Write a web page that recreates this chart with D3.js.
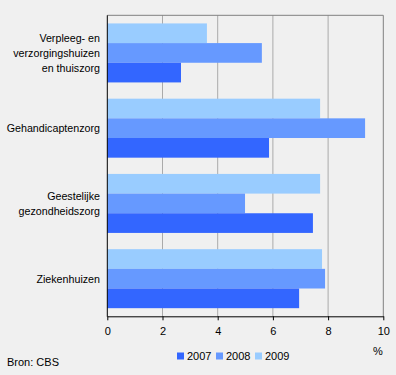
<!DOCTYPE html>
<html><head><meta charset="utf-8">
<script src="https://cdn.jsdelivr.net/npm/d3@7"></script>
<style>
html,body{margin:0;padding:0;background:#F0F0F0;}
svg{display:block;font-family:"Liberation Sans",Arial,sans-serif;}
</style></head>
<body>
<svg id="c" width="396" height="375"></svg>
<script>
const categories = [
  ["Verpleeg- en","verzorgingshuizen","en thuiszorg"],
  ["Gehandicaptenzorg"],
  ["Geestelijke","gezondheidszorg"],
  ["Ziekenhuizen"]
];
const seriesNames = ["2007","2008","2009"];
const values2007 = [2.67, 5.86, 7.45, 6.95];
const values2008 = [5.6, 9.34, 4.99, 7.89];
const values2009 = [3.61, 7.71, 7.71, 7.78];
const xTicks = [0,2,4,6,8,10];
const colors = {"2007":"#3366FF","2008":"#6699FF","2009":"#99CCFF"};

const series = {"2007":values2007,"2008":values2008,"2009":values2009};
const svg = d3.select("#c");
const L=107.3, R=383.3, T=15.3, B=316.3;
svg.append("rect").attr("width",396).attr("height",375).attr("fill","#F0F0F0");

const x = d3.scaleLinear().domain([0,10]).range([L,R]);
const y = d3.scaleBand().domain(d3.range(categories.length)).range([T,B]).paddingInner(0.216).paddingOuter(0.108);
const order = ["2009","2008","2007"];
const yi = d3.scaleBand().domain(order).range([0,y.bandwidth()]);

// gridlines
svg.append("g").selectAll("line").data(xTicks.slice(1,-1)).join("line")
  .attr("x1",d=>x(d)).attr("x2",d=>x(d)).attr("y1",T).attr("y2",B)
  .attr("stroke","#AAAAAA").attr("stroke-width",1);

// bars
const g = svg.append("g");
categories.forEach((c,i)=>{
  order.forEach(s=>{
    g.append("rect").attr("x",x(0)).attr("y",y(i)+yi(s))
      .attr("width",x(series[s][i])-x(0)).attr("height",yi.bandwidth())
      .attr("fill",colors[s]);
  });
});

// border top/right
svg.append("path").attr("d",`M${L},${T}H${R}V${B}`).attr("fill","none").attr("stroke","#808080").attr("stroke-width",1);

// x axis
const xa = svg.append("g").attr("transform",`translate(0,${B})`)
  .call(d3.axisBottom(x).tickValues(xTicks).tickSize(4).tickSizeOuter(0).tickPadding(7).tickFormat(d3.format("d")));
xa.select(".domain").attr("stroke","#000");
xa.selectAll(".tick line").attr("stroke","#000");
xa.selectAll("text").attr("font-size",11).attr("font-family","Liberation Sans, Arial").attr("fill","#000");
// left axis line
svg.append("line").attr("x1",L).attr("x2",L).attr("y1",T).attr("y2",B+0.5).attr("stroke","#000");

// category labels
categories.forEach((lines,i)=>{
  const cy = y(i)+y.bandwidth()/2;
  const lh = 15;
  const t = svg.append("text").attr("text-anchor","end").attr("font-size",10.7).attr("fill","#000");
  lines.forEach((ln,j)=>{
    t.append("tspan").attr("x",100).attr("y",cy + (j-(lines.length-1)/2)*lh + 4).text(ln);
  });
});

// % label
svg.append("text").attr("x",378).attr("y",355).attr("text-anchor","middle").attr("font-size",11).text("%");

// legend
const lg = svg.append("g");
const lx = [177,216,255];
seriesNames.forEach((s,i)=>{
  lg.append("rect").attr("x",lx[i]).attr("y",352.5).attr("width",7).attr("height",7).attr("fill",colors[s]);
  lg.append("text").attr("x",lx[i]+10).attr("y",360).attr("font-size",11).text(s);
});

svg.append("text").attr("x",7).attr("y",366).attr("font-size",11).text("Bron: CBS");
</script>
</body></html>
